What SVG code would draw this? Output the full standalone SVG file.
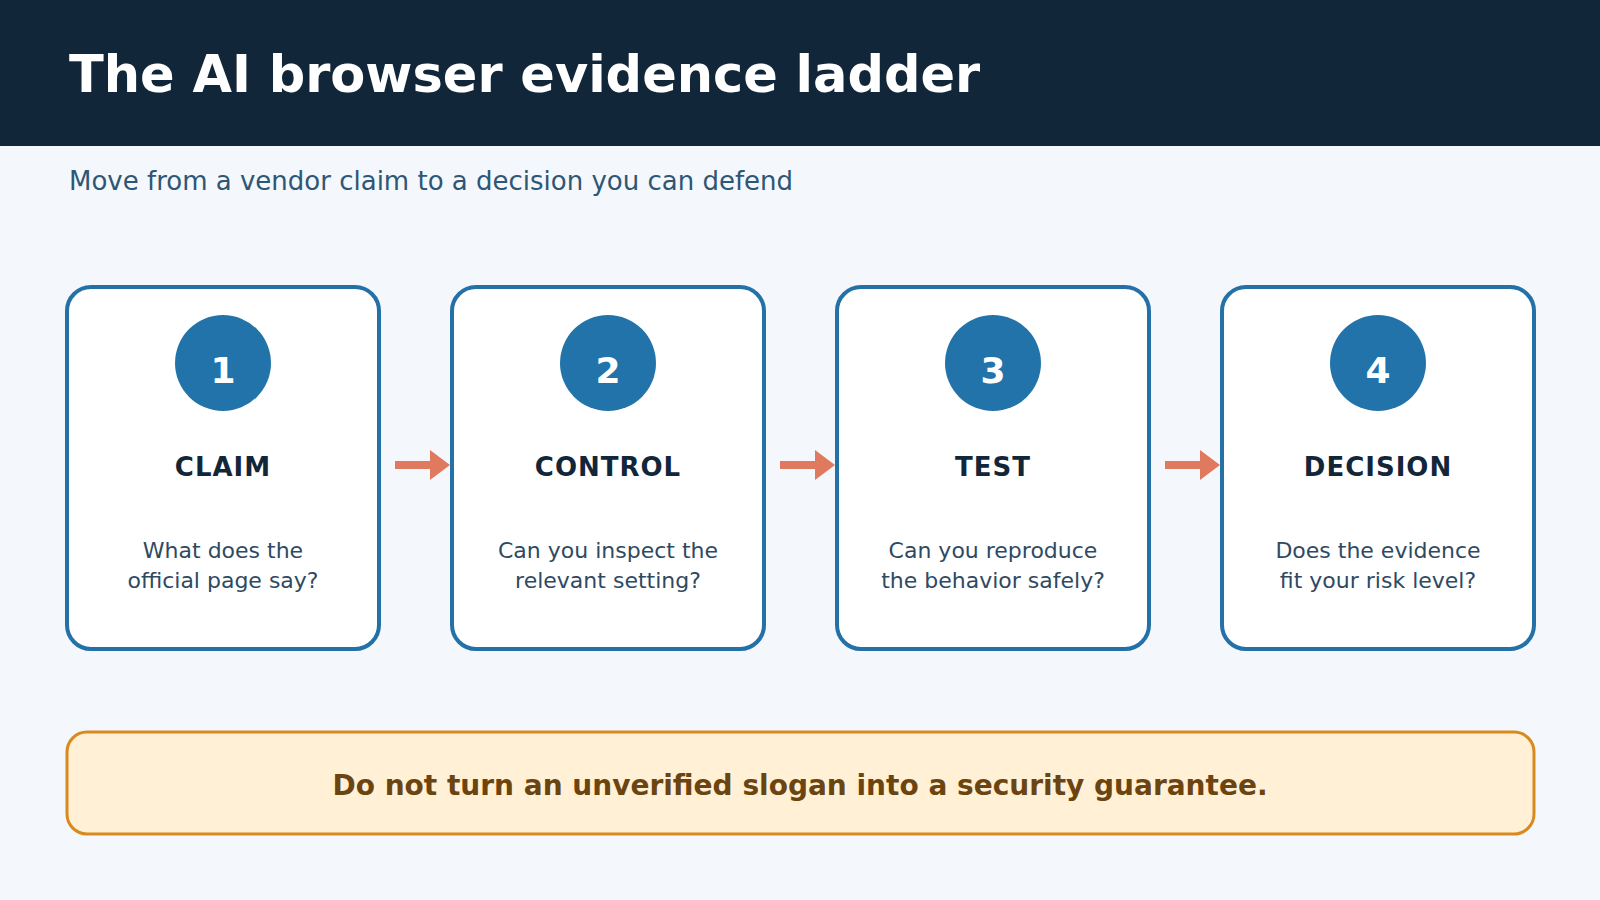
<svg xmlns="http://www.w3.org/2000/svg" width="1600" height="900" viewBox="0 0 1600 900">
<style>
text{font-family:"DejaVu Sans",sans-serif}
.card{fill:#fff;stroke:#2471a8;stroke-width:4}
.circ{fill:#2373ab}
.num{fill:#fff;font-size:36px;font-weight:bold;text-anchor:middle}
.ttl{fill:#12263a;font-size:26px;font-weight:bold;text-anchor:middle;letter-spacing:1px}
.dsc{fill:#2e4a63;font-size:22px;text-anchor:middle}
.arr{fill:#e07a5f}
</style>
<rect width="1600" height="900" fill="#f4f7fb"/>
<rect width="1600" height="146" fill="#12263a"/>
<text x="69" y="92" fill="#fff" font-size="51" font-weight="bold">The AI browser evidence ladder</text>
<text x="69" y="190" fill="#2e5675" font-size="26">Move from a vendor claim to a decision you can defend</text>
<g id="connectors">
<path class="arr" d="M395 461h35v-11l20 15-20 15v-11h-35z"/>
<path class="arr" d="M780 461h35v-11l20 15-20 15v-11h-35z"/>
<path class="arr" d="M1165 461h35v-11l20 15-20 15v-11h-35z"/>
</g>
<g id="n1"><rect class="card" x="67" y="287" width="312" height="362" rx="24"/><circle class="circ" cx="223" cy="363" r="48"/><text class="num" x="223" y="383">1</text><text class="ttl" x="223" y="476">CLAIM</text><text class="dsc" x="223" y="558">What does the</text><text class="dsc" x="223" y="588">official page say?</text></g>
<g id="n2"><rect class="card" x="452" y="287" width="312" height="362" rx="24"/><circle class="circ" cx="608" cy="363" r="48"/><text class="num" x="608" y="383">2</text><text class="ttl" x="608" y="476">CONTROL</text><text class="dsc" x="608" y="558">Can you inspect the</text><text class="dsc" x="608" y="588">relevant setting?</text></g>
<g id="n3"><rect class="card" x="837" y="287" width="312" height="362" rx="24"/><circle class="circ" cx="993" cy="363" r="48"/><text class="num" x="993" y="383">3</text><text class="ttl" x="993" y="476">TEST</text><text class="dsc" x="993" y="558">Can you reproduce</text><text class="dsc" x="993" y="588">the behavior safely?</text></g>
<g id="n4"><rect class="card" x="1222" y="287" width="312" height="362" rx="24"/><circle class="circ" cx="1378" cy="363" r="48"/><text class="num" x="1378" y="383">4</text><text class="ttl" x="1378" y="476">DECISION</text><text class="dsc" x="1378" y="558">Does the evidence</text><text class="dsc" x="1378" y="588">fit your risk level?</text></g>
<g id="note"><rect x="67" y="732" width="1467" height="102" rx="20" fill="#fff0d6" stroke="#d98a1f" stroke-width="3"/><text x="800" y="795" fill="#6b4410" font-size="28" font-weight="bold" text-anchor="middle">Do not turn an unverified slogan into a security guarantee.</text></g>
</svg>
